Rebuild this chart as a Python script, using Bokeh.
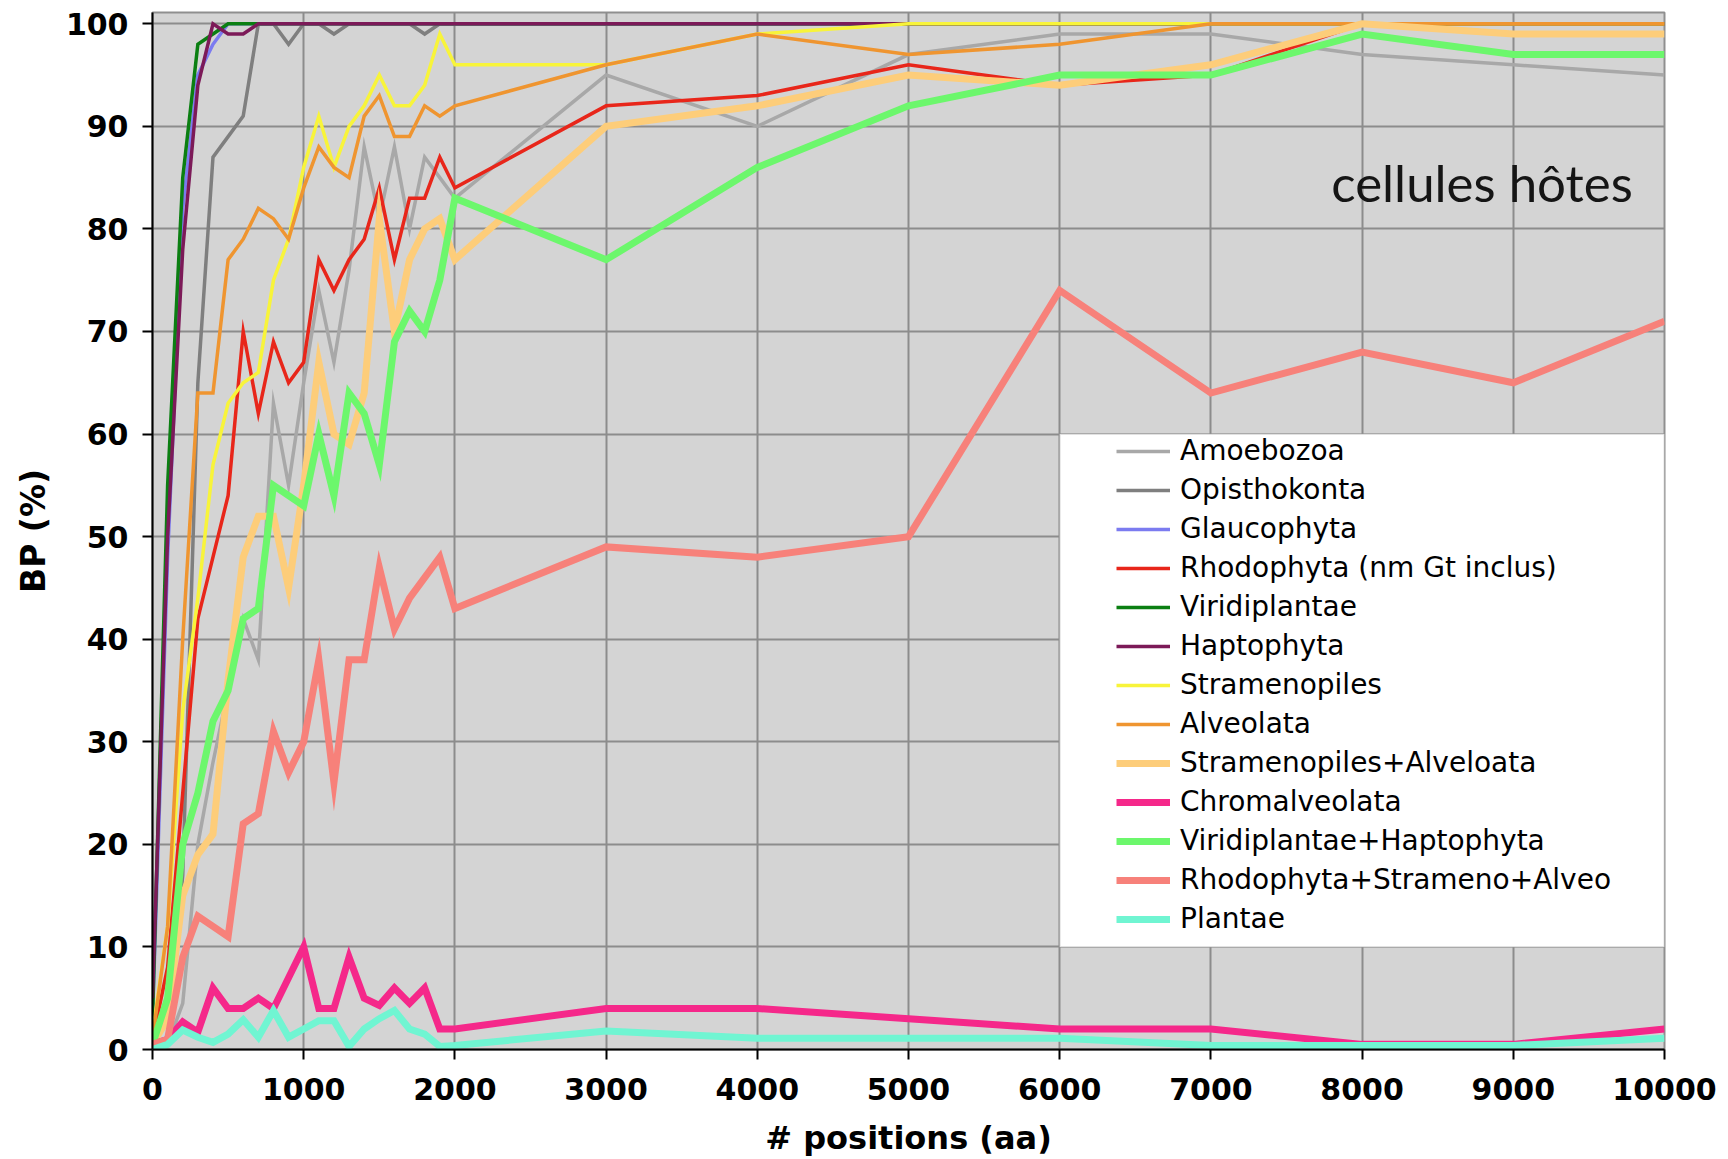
from bokeh.plotting import figure
from bokeh.models import FixedTicker, Legend, LegendItem, BoxAnnotation, Label, Range1d
from bokeh.embed import file_html
from bokeh.resources import INLINE

# ---------------- data ----------------
positions = [0, 100, 200, 300, 400, 500, 600, 700, 800, 900, 1000,
             1100, 1200, 1300, 1400, 1500, 1600, 1700, 1800, 1900, 2000,
             3000, 4000, 5000, 6000, 7000, 8000, 9000, 10000]

amoebozoa = [0, 0.5, 4.5, 20, 28, 35, 42, 38, 63, 55, 65, 74, 67, 76, 88, 81, 88, 80, 87, 85, 83,
             95, 90, 97, 99, 99, 97, 96, 95]
opisthokonta = [0, 1, 17, 65, 87, 89, 91, 100, 100, 98, 100, 100, 99, 100, 100, 100, 100, 100, 99, 100, 100,
                100, 100, 100, 100, 100, 100, 100, 100]
glaucophyta = [3, 48, 82, 95, 98, 100, 100, 100, 100, 100, 100, 100, 100, 100, 100, 100, 100, 100, 100, 100, 100,
               100, 100, 100, 100, 100, 100, 100, 100]
rhodophyta = [1, 8, 25, 42, 48, 54, 70, 62, 69, 65, 67, 77, 74, 77, 79, 84, 77, 83, 83, 87, 84,
              92, 93, 96, 94, 95, 100, 100, 100]
viridiplantae = [3, 55, 85, 98, 99, 100, 100, 100, 100, 100, 100, 100, 100, 100, 100, 100, 100, 100, 100, 100, 100,
                 100, 100, 100, 100, 100, 100, 100, 100]
haptophyta = [5, 50, 78, 94, 100, 99, 99, 100, 100, 100, 100, 100, 100, 100, 100, 100, 100, 100, 100, 100, 100,
              100, 100, 100, 100, 100, 100, 100, 100]
stramenopiles = [1.5, 12, 33, 44, 57, 63, 65, 66, 75, 79, 86, 91, 86, 90, 92, 95, 92, 92, 94, 99, 96,
                 96, 99, 100, 100, 100, 100, 100, 100]
alveolata = [1, 12, 40, 64, 64, 77, 79, 82, 81, 79, 84, 88, 86, 85, 91, 93, 89, 89, 92, 91, 92,
             96, 99, 97, 98, 100, 100, 100, 100]
strameno_alveo = [0.5, 3, 15, 19, 21, 36, 48, 52, 52, 45, 55, 67, 60, 59, 64, 81, 70, 77, 80, 81, 77,
                  90, 92, 95, 94, 96, 100, 99, 99]
chromalveolata = [0.5, 1, 2.7, 1.7, 6, 4, 4, 5, 4, 7, 10, 4, 4, 9, 5, 4.3, 6, 4.5, 6, 2, 2,
                  4, 4, 3, 2, 2, 0.5, 0.5, 2]
viridi_hapto = [0.5, 5, 20, 25, 32, 35, 42, 43, 55, 54, 53, 60, 54, 64, 62, 57, 69, 72, 70, 75, 83,
                77, 86, 92, 95, 95, 99, 97, 97]
rhodo_strameno_alveo = [0.5, 1, 9, 13, 12, 11, 22, 23, 31, 27, 30, 38, 26, 38, 38, 47, 41, 44, 46, 48, 43,
                        49, 48, 50, 74, 64, 68, 65, 71]
plantae = [0, 0.5, 1.9, 1.2, 0.7, 1.5, 2.9, 1.2, 3.8, 1.2, 2, 2.8, 2.8, 0.3, 2, 3, 3.8, 2, 1.5, 0.3, 0.4,
           1.8, 1.1, 1.1, 1.1, 0.4, 0.4, 0.4, 1.1]

names = ["Amoebozoa", "Opisthokonta", "Glaucophyta", "Rhodophyta (nm Gt inclus)", "Viridiplantae",
         "Haptophyta", "Stramenopiles", "Alveolata", "Stramenopiles+Alveloata", "Chromalveolata",
         "Viridiplantae+Haptophyta", "Rhodophyta+Strameno+Alveo", "Plantae"]
values = [amoebozoa, opisthokonta, glaucophyta, rhodophyta, viridiplantae, haptophyta, stramenopiles,
          alveolata, strameno_alveo, chromalveolata, viridi_hapto, rhodo_strameno_alveo, plantae]
colors = ["#a8a8a8", "#7f7f7f", "#7b7bf0", "#e8261a", "#0b7f12", "#7c1a58", "#f8f43a", "#ef9530",
          "#fdcd7a", "#f5288a", "#6cf76c", "#f7817a", "#70f5d2"]
widths = [3.5, 3.5, 3.5, 3.5, 3.5, 3.5, 3.5, 3.5, 7, 7, 7, 7, 7]

x_ticks = [0, 1000, 2000, 3000, 4000, 5000, 6000, 7000, 8000, 9000, 10000]
y_ticks = [0, 10, 20, 30, 40, 50, 60, 70, 80, 90, 100]

# ---------------- figure ----------------
p = figure(width=1728, height=1159, output_backend="svg", toolbar_location=None,
           x_range=Range1d(0, 10000), y_range=Range1d(0, 101.1),
           min_border_left=152, min_border_right=64, min_border_top=12, min_border_bottom=110)
p.background_fill_color = "#d4d4d4"
p.border_fill_color = "white"
p.outline_line_color = "#8f8f8f"
p.outline_line_width = 2

for g, t in ((p.xgrid, x_ticks), (p.ygrid, y_ticks)):
    g.ticker = FixedTicker(ticks=t)
    g.grid_line_color = "#8c8c8c"
    g.grid_line_width = 2
    g.grid_line_alpha = 1

for ax, t in ((p.xaxis, x_ticks), (p.yaxis, y_ticks)):
    ax.ticker = FixedTicker(ticks=t)
    ax.axis_line_color = "black"
    ax.axis_line_width = 2
    ax.major_tick_line_color = "black"
    ax.major_tick_line_width = 2
    ax.major_tick_out = 10
    ax.major_tick_in = 0
    ax.minor_tick_line_color = None
    ax.major_label_text_font = "DejaVu Sans"
    ax.major_label_text_font_style = "bold"
    ax.major_label_text_font_size = "30px"
    ax.major_label_text_color = "black"
    ax.axis_label_text_font = "DejaVu Sans"
    ax.axis_label_text_font_style = "bold"
    ax.axis_label_text_color = "black"

p.xaxis.axis_label = "# positions (aa)"
p.yaxis.axis_label = "BP (%)"
p.xaxis.axis_label_text_font_size = "32px"
p.yaxis.axis_label_text_font_size = "33px"
p.xaxis.major_label_standoff = 18
p.yaxis.major_label_standoff = 14
p.xaxis.axis_label_standoff = 16
p.yaxis.axis_label_standoff = 10

items = []
for name, vals, col, w in zip(names, values, colors, widths):
    r = p.line(positions, vals, line_color=col, line_width=w, line_join="miter")
    items.append(LegendItem(label=name, renderers=[r]))

# legend frame
frame = BoxAnnotation(left=6000, right=10000, bottom=10, top=60,
                      fill_color="white", fill_alpha=1, line_color="#9a9a9a", line_width=2)
p.add_layout(frame)

legend = Legend(items=items, location=(964, 114), padding=0, spacing=6,
                glyph_width=54, glyph_height=20, label_standoff=10,
                label_text_font="DejaVu Sans", label_text_font_size="28px", label_text_color="black",
                background_fill_alpha=0, border_line_alpha=0)
p.add_layout(legend)

p.add_layout(Label(x=9790, y=84.5, text="cellules hôtes", text_align="right",
                   text_baseline="alphabetic", text_font="Lato", text_font_size="51px",
                   text_color="#151515"))

open("out.html", "w").write(file_html(p, INLINE))
